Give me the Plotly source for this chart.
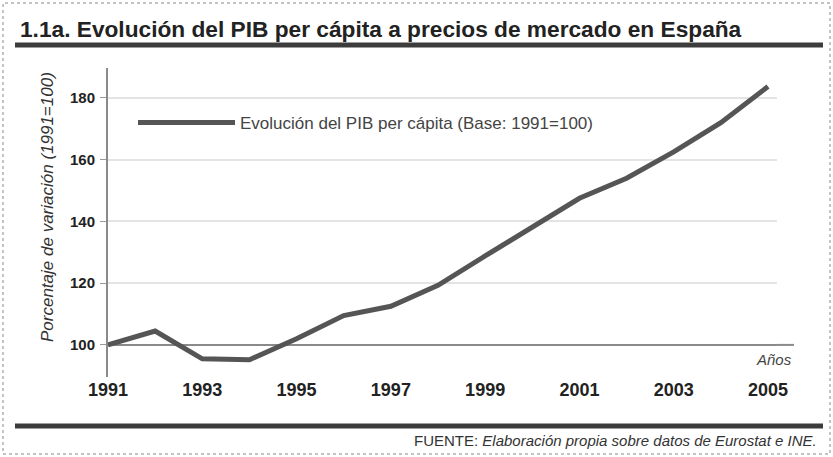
import plotly.graph_objects as go

# ---- data ----
years = list(range(1991, 2006))
pib_index = [100, 104.5, 95.5, 95.2, 102, 109.5, 112.5, 119.3, 128.8, 138.2,
             147.5, 154, 162.5, 172, 183.7]
x_ticks = [1991, 1993, 1995, 1997, 1999, 2001, 2003, 2005]
y_ticks = [100, 120, 140, 160, 180]

title_text = "1.1a. Evolución del PIB per cápita a precios de mercado en España"
series_name = "Evolución del PIB per cápita (Base: 1991=100)"
y_title = "Porcentaje de variación (1991=100)"
x_title = "Años"
source_text = "FUENTE: <i>Elaboración propia sobre datos de Eurostat e INE.</i>"
base_value = 100

W, H = 833, 457
L, R, T, B = 108, 56, 68, 80
pw, ph = W - L - R, H - T - B

def px(xp):
    return (xp - L) / pw

def py(yp):
    return (H - B - yp) / ph

SANS = "Liberation Sans, Arial, Helvetica, sans-serif"
YRANGE = [89.6, 189.7]
XRANGE = [1991, 1991 + (W - R - L) / ((768 - 108) / 14)]

fig = go.Figure()
# base reference line (100) drawn under the series
fig.add_trace(go.Scatter(
    x=XRANGE, y=[base_value, base_value], mode="lines",
    line=dict(color="#8a8a8a", width=2), showlegend=False, hoverinfo="skip",
))
fig.add_trace(go.Scatter(
    x=years, y=pib_index, mode="lines", name=series_name,
    line=dict(color="#555555", width=5), showlegend=True,
))

fig.update_layout(
    width=W, height=H,
    margin=dict(l=L, r=R, t=T, b=B),
    paper_bgcolor="white", plot_bgcolor="white",
    font=dict(family=SANS, color="#333333"),
    showlegend=True,
    legend=dict(
        x=px(133), y=py(123), xanchor="left", yanchor="middle",
        bgcolor="rgba(0,0,0,0)", borderwidth=0,
        itemwidth=97,
        font=dict(family=SANS, size=17, color="#444444"),
    ),
    title=dict(
        text=title_text, xref="container", yref="container",
        x=20 / W, xanchor="left", y=1 - 29 / H, yanchor="middle",
        font=dict(family=SANS, size=22.7, color="#222222", weight="bold"),
    ),
    xaxis=dict(
        range=XRANGE,
        tickmode="array", tickvals=x_ticks, ticktext=[str(v) for v in x_ticks],
        showgrid=False, zeroline=False, showline=False, ticks="",
        tickfont=dict(family=SANS, size=18, color="#222222", weight="bold"),
        ticklabelstandoff=0,
        fixedrange=True,
    ),
    yaxis=dict(
        range=YRANGE,
        tickmode="array", tickvals=y_ticks, ticktext=[str(v) for v in y_ticks],
        showgrid=True, gridcolor="#e4e4e4", gridwidth=1.5,
        zeroline=False,
        showline=True, linecolor="#8a8a8a", linewidth=2,
        ticks="outside", ticklen=6, tickcolor="#9a9a9a", tickwidth=1,
        tickfont=dict(family=SANS, size=15, color="#222222", weight="bold"),
        ticklabelstandoff=2,
        fixedrange=True,
    ),
)

shapes = [
    # baseline extension beyond the plot area up to the "Años" label
    dict(type="line", xref="paper", yref="y", x0=1, x1=px(794),
         y0=base_value, y1=base_value,
         line=dict(color="#8a8a8a", width=2)),
    # top rule
    dict(type="line", xref="paper", yref="paper", x0=px(15), x1=px(823),
         y0=py(45), y1=py(45), line=dict(color="#3c3c3c", width=5)),
    # bottom rule
    dict(type="line", xref="paper", yref="paper", x0=px(15), x1=px(823),
         y0=py(426), y1=py(426), line=dict(color="#3c3c3c", width=5)),
    # dotted frame
    dict(type="rect", xref="paper", yref="paper", x0=px(3), x1=px(830),
         y0=py(454), y1=py(3), line=dict(color="#888888", width=1, dash="dot")),
]
fig.update_layout(shapes=shapes)

annotations = [
    dict(text=y_title, xref="paper", yref="paper", x=px(47), y=py(207),
         xanchor="center", yanchor="middle", textangle=-90, showarrow=False,
         font=dict(family=SANS, size=17, color="#333333", style="italic")),
    dict(text=x_title, xref="paper", yref="y", x=px(794), y=base_value,
         xanchor="right", yanchor="top", yshift=-4, showarrow=False,
         font=dict(family=SANS, size=15, color="#444444", style="italic")),
    dict(text=source_text, xref="paper", yref="paper", x=px(819), y=py(440),
         xanchor="right", yanchor="middle", showarrow=False,
         font=dict(family=SANS, size=15, color="#333333")),
]
fig.update_layout(annotations=annotations)

fig.write_html("out.html", config={"displayModeBar": False},
               post_script="document.body.style.margin='0';")
